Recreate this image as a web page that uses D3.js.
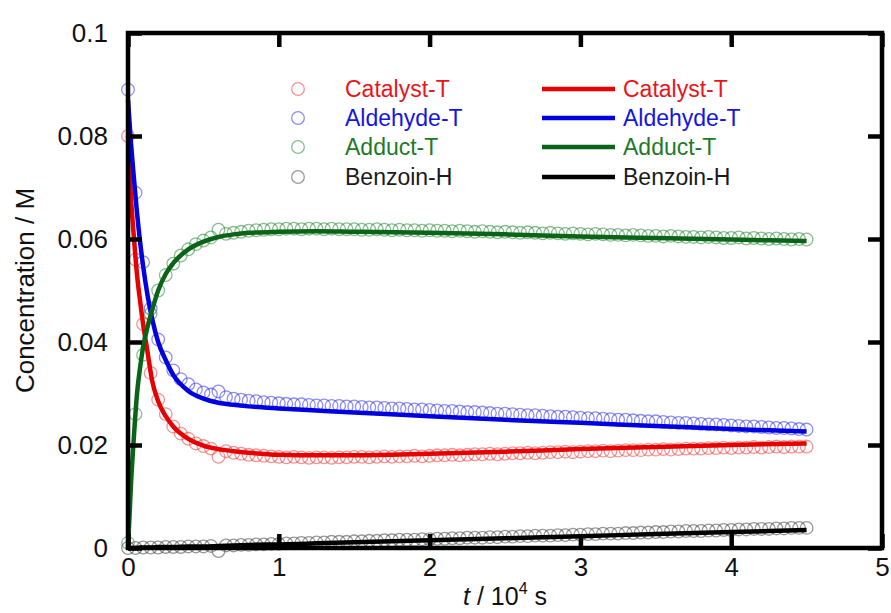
<!DOCTYPE html>
<html><head><meta charset="utf-8">
<script src="https://cdn.jsdelivr.net/npm/d3@7"></script>
<style>
body{margin:0;background:#fff;}
svg{display:block;font-family:"Liberation Sans",Arial,sans-serif;}
</style></head>
<body><svg id="c" width="891" height="613"></svg>
<script>
// ---- data (t in 10^4 s, concentrations in M) ----
const markerTimes = [0,0.05,0.1,0.15,0.2,0.25,0.3,0.35,0.4,0.45,0.5,0.55,0.6,0.65,0.7,0.75,0.8,0.85,0.9,0.95,1,
1.05,1.1,1.15,1.2,1.25,1.3,1.35,1.4,1.45,1.5,1.55,1.6,1.65,1.7,1.75,1.8,1.85,1.9,1.95,2,
2.05,2.1,2.15,2.2,2.25,2.3,2.35,2.4,2.45,2.5,2.55,2.6,2.65,2.7,2.75,2.8,2.85,2.9,2.95,3,
3.05,3.1,3.15,3.2,3.25,3.3,3.35,3.4,3.45,3.5,3.55,3.6,3.65,3.7,3.75,3.8,3.85,3.9,3.95,4,
4.05,4.1,4.15,4.2,4.25,4.3,4.35,4.4,4.45,4.5];

const catalystObs = [0.0800,0.0560,0.0435,0.0340,0.0288,0.0260,0.0236,0.0222,0.0212,0.0203,0.0198,0.0193,0.0177,0.0188,0.0185,0.0183,0.0181,0.0180,0.0179,0.0178,0.0177,
0.0176,0.0177,0.0176,0.0175,0.0176,0.0176,0.0175,0.0176,0.0176,0.0177,
0.0177,0.0176,0.0177,0.0178,0.0177,0.0178,0.0178,0.0179,0.0178,0.0179,
0.0180,0.0180,0.0181,0.0180,0.0181,0.0182,0.0182,0.0183,0.0182,0.0183,
0.0184,0.0184,0.0185,0.0184,0.0185,0.0186,0.0186,0.0187,0.0186,0.0187,
0.0188,0.0188,0.0189,0.0188,0.0189,0.0190,0.0190,0.0190,0.0191,0.0191,
0.0192,0.0191,0.0192,0.0193,0.0193,0.0193,0.0194,0.0194,0.0195,0.0194,
0.0195,0.0195,0.0196,0.0195,0.0196,0.0197,0.0196,0.0197,0.0197,0.0197];

const aldehydeObs = [0.0890,0.0690,0.0555,0.0465,0.0405,0.0370,0.0345,0.0328,0.0318,0.0308,0.0302,0.0298,0.0304,0.0293,0.0290,0.0288,0.0286,0.0285,0.0283,0.0282,0.0281,
0.0280,0.0279,0.0279,0.0278,0.0277,0.0277,0.0276,0.0276,0.0275,0.0275,
0.0274,0.0273,0.0273,0.0272,0.0271,0.0271,0.0270,0.0269,0.0269,0.0268,
0.0267,0.0266,0.0266,0.0265,0.0264,0.0264,0.0263,0.0262,0.0261,0.0261,
0.0260,0.0259,0.0258,0.0258,0.0257,0.0256,0.0255,0.0255,0.0254,0.0253,
0.0252,0.0252,0.0251,0.0250,0.0249,0.0249,0.0248,0.0247,0.0246,0.0246,
0.0245,0.0244,0.0243,0.0243,0.0242,0.0241,0.0240,0.0240,0.0239,0.0238,
0.0237,0.0236,0.0236,0.0235,0.0234,0.0233,0.0233,0.0232,0.0231,0.0230];

const adductObs = [0.0010,0.0260,0.0375,0.0455,0.0500,0.0530,0.0552,0.0568,0.0580,0.0590,0.0597,0.0603,0.0618,0.0610,0.0612,0.0614,0.0616,0.0617,0.0618,0.0619,0.0619,
0.0620,0.0620,0.0619,0.0620,0.0620,0.0619,0.0620,0.0619,0.0619,0.0619,
0.0618,0.0618,0.0619,0.0618,0.0617,0.0618,0.0617,0.0617,0.0616,0.0617,
0.0616,0.0616,0.0615,0.0616,0.0615,0.0614,0.0615,0.0614,0.0613,0.0614,
0.0613,0.0612,0.0613,0.0612,0.0611,0.0612,0.0611,0.0610,0.0611,0.0610,
0.0609,0.0610,0.0609,0.0608,0.0608,0.0607,0.0608,0.0607,0.0606,0.0606,
0.0605,0.0606,0.0605,0.0604,0.0604,0.0603,0.0604,0.0603,0.0602,0.0602,
0.0603,0.0601,0.0602,0.0601,0.0600,0.0601,0.0600,0.0599,0.0600,0.0599];

const benzoinObs = [0.0000,0.0000,0.0001,0.0001,0.0001,0.0002,0.0002,0.0002,0.0003,0.0003,0.0003,0.0004,-0.0006,0.0005,0.0005,0.0006,0.0006,0.0007,0.0007,0.0008,0.0008,
0.0009,0.0009,0.0010,0.0010,0.0011,0.0011,0.0012,0.0012,0.0012,0.0013,
0.0013,0.0014,0.0014,0.0015,0.0015,0.0016,0.0016,0.0016,0.0017,0.0017,
0.0018,0.0018,0.0019,0.0019,0.0020,0.0020,0.0020,0.0021,0.0021,0.0022,
0.0022,0.0023,0.0023,0.0024,0.0024,0.0024,0.0025,0.0025,0.0026,0.0026,
0.0027,0.0027,0.0028,0.0028,0.0028,0.0029,0.0029,0.0030,0.0030,0.0031,
0.0031,0.0032,0.0032,0.0033,0.0033,0.0033,0.0034,0.0034,0.0035,0.0035,
0.0036,0.0036,0.0037,0.0037,0.0037,0.0038,0.0038,0.0039,0.0039,0.0039];

const fitTimes = [0,0.02,0.04,0.06,0.08,0.1,0.13,0.16,0.2,0.25,0.3,0.4,0.5,0.6,0.7,0.8,1.0,1.25,1.5,2,2.5,3,3.5,4,4.5];
const catalystFit = [0.0800,0.0680,0.0600,0.0530,0.0480,0.0435,0.0380,0.0325,0.0285,0.0256,0.0236,0.0212,0.0199,0.0192,0.0188,0.0185,0.0181,0.0180,0.0180,0.0183,0.0187,0.0192,0.0196,0.0200,0.0203];
const aldehydeFit = [0.0870,0.0785,0.0715,0.0650,0.0595,0.0548,0.0490,0.0445,0.0400,0.0365,0.0336,0.0305,0.0290,0.0282,0.0278,0.0275,0.0271,0.0267,0.0263,0.0256,0.0249,0.0243,0.0237,0.0231,0.0226];
const adductFit = [0.0000,0.0125,0.0220,0.0300,0.0350,0.0390,0.0430,0.0462,0.0500,0.0532,0.0553,0.0580,0.0595,0.0604,0.0609,0.0612,0.0614,0.0615,0.0614,0.0612,0.0609,0.0605,0.0602,0.0599,0.0596];
const benzoinFit = [0.0000,0.0000,0.0000,0.0000,0.0001,0.0001,0.0001,0.0001,0.0002,0.0002,0.0002,0.0003,0.0003,0.0004,0.0005,0.0006,0.0007,0.0009,0.0011,0.0015,0.0019,0.0023,0.0027,0.0031,0.0035];

const seriesNames = ["Catalyst-T","Aldehyde-T","Adduct-T","Benzoin-H"];
const xTicks = [0,1,2,3,4,5];
const yTicks = [0,0.02,0.04,0.06,0.08,0.1];
const yTickLabels = ["0","0.02","0.04","0.06","0.08","0.1"];

// ---- styles ----
const markerColors = ["rgba(236,60,60,0.55)","rgba(50,50,235,0.55)","rgba(40,135,55,0.55)","rgba(70,70,70,0.55)"];
const lineColors = ["#e60000","#0000e0","#0a6418","#000000"];
const textColors = ["#e8161b","#1515e0","#1e7a28","#1a1a1a"];

const svg = d3.select("#c");
const L = 128, R = 882, T = 33, B = 548;
const x = d3.scaleLinear().domain([0,5]).range([L,R]);
const y = d3.scaleLinear().domain([0,0.1]).range([B,T]);

const obs = [catalystObs, aldehydeObs, adductObs, benzoinObs];
const fits = [catalystFit, aldehydeFit, adductFit, benzoinFit];

// markers
obs.forEach((vals,i)=>{
  svg.append("g").selectAll("circle").data(vals).join("circle")
    .attr("cx",(d,j)=>x(markerTimes[j])).attr("cy",d=>y(d)).attr("r",6.3)
    .attr("fill","none").attr("stroke",markerColors[i]).attr("stroke-width",1.3);
});
// lines
const line = d3.line().x(d=>x(d[0])).y(d=>y(d[1])).curve(d3.curveMonotoneX);
fits.forEach((vals,i)=>{
  svg.append("path").datum(vals.map((v,j)=>[fitTimes[j],v]))
    .attr("d",line).attr("fill","none").attr("stroke",lineColors[i]).attr("stroke-width",4.5)
    .attr("stroke-linejoin","round");
});

// axes (inward ticks)
const tk = 14;
const ax = (g)=>{g.select(".domain").remove(); g.selectAll(".tick line").attr("stroke","#000").attr("stroke-width",4.5);};
svg.append("g").attr("transform",`translate(0,${B})`)
  .call(d3.axisBottom(x).tickValues(xTicks).tickSizeInner(-tk).tickSizeOuter(0).tickPadding(10).tickFormat(d3.format("d")))
  .call(ax).call(g=>g.selectAll("text").attr("font-size",26).attr("fill","#111").attr("font-family","Liberation Sans, Arial"));
svg.append("g").attr("transform",`translate(0,${T})`)
  .call(d3.axisTop(x).tickValues(xTicks).tickSizeInner(-tk).tickSizeOuter(0).tickFormat(""))
  .call(ax);
svg.append("g").attr("transform",`translate(${L},0)`)
  .call(d3.axisLeft(y).tickValues(yTicks).tickSizeInner(-tk).tickSizeOuter(0).tickPadding(20).tickFormat((d,i)=>yTickLabels[i]))
  .call(ax).call(g=>g.selectAll("text").attr("font-size",26).attr("fill","#111").attr("font-family","Liberation Sans, Arial"));
svg.append("g").attr("transform",`translate(${R},0)`)
  .call(d3.axisRight(y).tickValues(yTicks).tickSizeInner(-tk).tickSizeOuter(0).tickFormat(""))
  .call(ax);

// frame
svg.append("rect").attr("x",L).attr("y",T).attr("width",R-L).attr("height",B-T)
  .attr("fill","none").attr("stroke","#000").attr("stroke-width",4.5);

// axis titles
svg.append("text").attr("transform",`translate(34,${(T+B)/2}) rotate(-90)`)
  .attr("text-anchor","middle").attr("font-size",26).attr("fill","#111").text("Concentration / M");
const xt = svg.append("text").attr("x",(L+R)/2).attr("y",605).attr("text-anchor","middle").attr("font-size",25).attr("fill","#111");
xt.append("tspan").attr("font-style","italic").text("t");
xt.append("tspan").text(" / 10");
xt.append("tspan").attr("font-size",16).attr("dy",-11).text("4");
xt.append("tspan").attr("dy",11).text(" s");

// legend
const rowY = [89,118,147,177];
seriesNames.forEach((name,i)=>{
  svg.append("circle").attr("cx",298).attr("cy",rowY[i]).attr("r",6.3)
    .attr("fill","none").attr("stroke",markerColors[i]).attr("stroke-width",1.3);
  svg.append("text").attr("x",345).attr("y",rowY[i]+8).attr("font-size",23).attr("fill",textColors[i]).text(name);
  svg.append("line").attr("x1",542).attr("x2",615).attr("y1",rowY[i]).attr("y2",rowY[i])
    .attr("stroke",lineColors[i]).attr("stroke-width",4.5);
  svg.append("text").attr("x",623).attr("y",rowY[i]+8).attr("font-size",23).attr("fill",textColors[i]).text(name);
});
</script></body></html>
